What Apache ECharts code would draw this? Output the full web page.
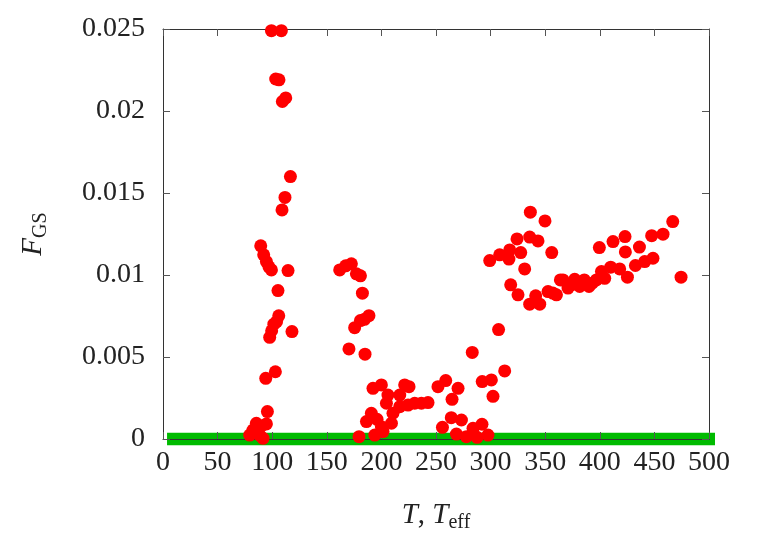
<!DOCTYPE html>
<html>
<head>
<meta charset="utf-8">
<script src="https://cdn.jsdelivr.net/npm/echarts@6/dist/echarts.min.js"></script>
<style>
  html, body { margin: 0; padding: 0; background: #fff; }
  #chart { width: 763px; height: 534px; }
</style>
</head>
<body>
<div id="chart"></div>
<script>
// temperatures T (x) and fidelity F_GS (y)
var tValues = [
  99.3, 108.4, 103.2, 106.2, 109.3, 112.4, 116.7, 111.7, 109.0,
  89.5, 92.2, 94.7, 97.0, 99.3, 114.5, 105.3, 106.0, 104.0, 101.5, 99.5, 97.7,
  118.1, 102.9, 94.1, 95.6, 85.5, 94.7, 82.4, 88.5, 79.4, 91.6, 87.0, 90.0,
  161.8, 167.3, 172.5, 177.1, 180.8, 182.6, 188.6, 184.5, 180.8, 175.5, 170.3, 185.0,
  179.5, 193.9, 186.3, 190.8, 192.3, 200.0, 206.0, 204.6, 210.6, 209.2, 200.0,
  216.8, 221.3, 225.3, 224.4, 216.8, 230.5, 236.6, 242.7, 201.5, 196.0,
  251.8, 258.9, 255.9, 264.7, 270.2, 264.0, 273.3, 268.7, 277.8, 287.6, 283.9,
  292.1, 297.6, 283.2, 292.3, 300.7, 302.2, 312.9, 307.3,
  299.2, 308.3, 317.5, 316.8, 327.6, 324.2, 335.8, 343.4, 336.4, 349.8, 356.0,
  331.2, 318.4, 325.1, 335.8, 341.3, 345.0, 352.6, 360.3, 366.3, 370.9, 377.0,
  381.6, 385.8, 390.1, 396.9, 401.5, 404.5, 410.0, 418.2, 425.3, 399.6, 412.1,
  423.1, 423.4, 432.6, 436.3, 441.1, 448.7, 447.5, 457.9, 466.8, 474.4,
  357.0, 363.9, 374.0, 393.0
];
var fValues = [
  0.0249, 0.0249, 0.02195, 0.0219, 0.02058, 0.0208, 0.0160, 0.01473, 0.01397,
  0.01178, 0.01123, 0.01082, 0.0105, 0.01031, 0.01027, 0.00905, 0.00751, 0.00715, 0.0070, 0.0066, 0.0062,
  0.00655, 0.0041, 0.0037, 0.00167, 0.00096, 0.00092, 0.00055, 0.00024, 0.00024, 0.00004, 0.0006, 0.0008,
  0.01031, 0.01056, 0.01068, 0.01007, 0.00995, 0.00889, 0.00752, 0.0073, 0.00722, 0.00679, 0.00549, 0.00517,
  0.00014, 0.00024, 0.00106, 0.00157, 0.00309, 0.0033, 0.00268, 0.00218, 0.00157, 0.00096, 0.00075,
  0.00268, 0.0033, 0.00319, 0.00207, 0.00197, 0.00218, 0.00218, 0.00222, 0.00045, 0.0012,
  0.00319, 0.00356, 0.00071, 0.00242, 0.00309, 0.0013, 0.00116, 0.0003, 0.00014, 0.0001, 0.00065,
  0.0009, 0.00024, 0.00528, 0.0035, 0.0036, 0.0026, 0.00415, 0.00667,
  0.01088, 0.01123, 0.01153, 0.01097, 0.01137, 0.0122, 0.01231, 0.01208, 0.01383, 0.0133, 0.01137,
  0.01037, 0.0094, 0.00879, 0.00822, 0.00873, 0.00822, 0.00899, 0.00879, 0.0097, 0.0092, 0.00974,
  0.0093, 0.0097, 0.0093, 0.0097, 0.01021, 0.0098, 0.01048, 0.01037, 0.00987, 0.01167, 0.01204,
  0.01234, 0.01141, 0.01058, 0.0117, 0.01082, 0.01102, 0.0124, 0.01249, 0.01326, 0.00987,
  0.0089, 0.0097, 0.0094, 0.0095
];
// green reference line at F = 0
var baseT = [3.7, 505.5];
var baseF = [0, 0];

var xTicks = { min: 0, max: 500, interval: 50 };
var yTicks = { min: 0, max: 0.025, interval: 0.005 };

var points = tValues.map(function (t, i) { return [t, fValues[i]]; });
var baseLine = baseT.map(function (t, i) { return [t, baseF[i]]; });

var serif = 'Liberation Serif';
var frame = { show: true, onZero: false, lineStyle: { color: '#333', width: 1 } };
var ticksIn = { show: true, inside: true, length: 7, lineStyle: { color: '#555' } };

var chart = echarts.init(document.getElementById('chart'));
chart.setOption({
  animation: false,
  backgroundColor: '#fff',
  grid: { left: 163, right: 54, top: 29, bottom: 95, outerBoundsMode: 'none', containLabel: false },
  xAxis: [
    {
      type: 'value', min: xTicks.min, max: xTicks.max, interval: xTicks.interval,
      position: 'bottom', z: 1,
      axisLine: frame, axisTick: ticksIn, splitLine: { show: false },
      axisLabel: { fontFamily: serif, fontSize: 28, color: '#222', margin: 10 },
      name: '{i|T}{r|, }{i|T}{s|eff}', nameLocation: 'middle', nameGap: 62,
      nameTextStyle: {
        rich: {
          i: { fontFamily: serif, fontStyle: 'italic', fontSize: 29, color: '#222', lineHeight: 30, verticalAlign: 'top' },
          r: { fontFamily: serif, fontSize: 29, color: '#222', lineHeight: 30, verticalAlign: 'top' },
          s: { fontFamily: serif, fontSize: 20, color: '#222', lineHeight: 32, verticalAlign: 'bottom' }
        }
      }
    },
    {
      type: 'value', min: xTicks.min, max: xTicks.max, interval: xTicks.interval,
      position: 'top', z: 1,
      axisLine: frame, axisTick: ticksIn, axisLabel: { show: false }, splitLine: { show: false }
    }
  ],
  yAxis: [
    {
      type: 'value', min: yTicks.min, max: yTicks.max, interval: yTicks.interval,
      position: 'left', z: 1,
      axisLine: frame, axisTick: ticksIn, splitLine: { show: false },
      axisLabel: { fontFamily: serif, fontSize: 28, color: '#222', margin: 18 },
      name: '{i|F}{s|GS}', nameLocation: 'middle', nameGap: 112,
      nameTextStyle: {
        rich: {
          i: { fontFamily: serif, fontStyle: 'italic', fontSize: 29, color: '#222', lineHeight: 30, verticalAlign: 'top' },
          s: { fontFamily: serif, fontSize: 20, color: '#222', lineHeight: 32, verticalAlign: 'bottom' }
        }
      }
    },
    {
      type: 'value', min: yTicks.min, max: yTicks.max, interval: yTicks.interval,
      position: 'right', z: 1,
      axisLine: frame, axisTick: ticksIn, axisLabel: { show: false }, splitLine: { show: false }
    }
  ],
  series: [
    {
      type: 'line', data: baseLine, z: 0, clip: false, symbol: 'none',
      lineStyle: { color: '#00bb00', width: 12.7, cap: 'butt' }
    },
    {
      type: 'scatter', data: points, z: 3, clip: false,
      symbol: 'circle', symbolSize: 13,
      itemStyle: { color: '#ff0000', opacity: 1 }
    }
  ]
});
</script>
</body>
</html>
